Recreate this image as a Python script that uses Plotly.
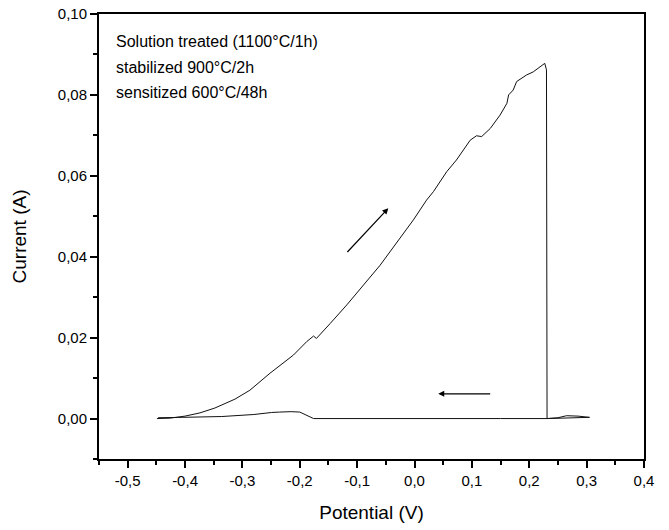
import plotly.graph_objects as go

# Forward (anodic) scan
fwd_x = [-0.449, -0.426, -0.400, -0.374, -0.348, -0.313, -0.287, -0.252, -0.211, -0.188,
         -0.176, -0.171, -0.147, -0.118, -0.089, -0.060, -0.002, 0.021, 0.033, 0.056,
         0.073, 0.097, 0.108, 0.117, 0.132, 0.149, 0.161, 0.164, 0.172, 0.178,
         0.195, 0.207, 0.227, 0.230, 0.231]
fwd_y = [0.0000, 0.0001, 0.0006, 0.0014, 0.0026, 0.0048, 0.0070, 0.0112, 0.0157, 0.0190,
         0.0204, 0.0198, 0.0235, 0.0281, 0.0330, 0.0379, 0.0491, 0.0540, 0.0561, 0.0610,
         0.0639, 0.0688, 0.0699, 0.0697, 0.0717, 0.0750, 0.0779, 0.0800, 0.0812, 0.0833,
         0.0849, 0.0857, 0.0878, 0.0862, 0.0000]

# Tail beyond the drop and reverse (cathodic) scan
rev_x = [0.231, 0.250, 0.265, 0.285, 0.305, 0.280, 0.250, 0.231, 0.150, 0.050, -0.050,
         -0.150, -0.176, -0.200, -0.215, -0.235, -0.249, -0.280, -0.336, -0.404, -0.447]
rev_y = [0.0000, 0.0002, 0.0007, 0.0006, 0.0003, 0.0002, 0.0000, 0.0000, 0.0000, 0.0000, 0.0000,
         0.0000, 0.0000, 0.0016, 0.0017, 0.0016, 0.0015, 0.0010, 0.0005, 0.0003, 0.0002]

x_tickvals = [-0.5, -0.4, -0.3, -0.2, -0.1, 0.0, 0.1, 0.2, 0.3, 0.4]
x_ticktext = ["-0,5", "-0,4", "-0,3", "-0,2", "-0,1", "0,0", "0,1", "0,2", "0,3", "0,4"]
y_tickvals = [0.00, 0.02, 0.04, 0.06, 0.08, 0.10]
y_ticktext = ["0,00", "0,02", "0,04", "0,06", "0,08", "0,10"]

labels = ["Solution treated (1100°C/1h)", "stabilized 900°C/2h", "sensitized 600°C/48h"]
label_y = [0.0931, 0.0869, 0.0805]

fig = go.Figure()
fig.add_trace(go.Scatter(x=fwd_x + rev_x, y=fwd_y + rev_y, mode="lines",
                         line=dict(color="#111111", width=1), showlegend=False,
                         hoverinfo="skip"))

FONT = "Liberation Sans, Arial, sans-serif"

for t, yy in zip(labels, label_y):
    fig.add_annotation(x=-0.524, y=yy, xref="x", yref="y", text=t, showarrow=False,
                       xanchor="left", yanchor="middle",
                       font=dict(family=FONT, size=16, color="black"))

# direction arrows
fig.add_annotation(x=-0.0457, y=0.0520, ax=-0.1195, ay=0.0408, xref="x", yref="y",
                   axref="x", ayref="y", text="", showarrow=True, arrowhead=2,
                   arrowsize=1, arrowwidth=1.2, arrowcolor="black")
fig.add_annotation(x=0.0414, y=0.0061, ax=0.1345, ay=0.0061, xref="x", yref="y",
                   axref="x", ayref="y", text="", showarrow=True, arrowhead=2,
                   arrowsize=1, arrowwidth=1.2, arrowcolor="black")

axis_common = dict(showgrid=False, zeroline=False, showline=True, linecolor="black",
                   linewidth=2, mirror=True, ticks="outside", ticklen=7, tickwidth=2,
                   tickcolor="black", automargin=False, ticklabeloverflow="allow",
                   tickfont=dict(family=FONT, size=15, color="black"))

fig.update_xaxes(range=[-0.55, 0.4], tickvals=x_tickvals, ticktext=x_ticktext,
                 minor=dict(dtick=0.05, tick0=0, ticks="outside", ticklen=4,
                            tickwidth=2, tickcolor="black"),
                 title=dict(text="Potential (V)", font=dict(family=FONT, size=19, color="black"),
                            standoff=18),
                 **axis_common)
fig.update_yaxes(range=[-0.01, 0.10], tickvals=y_tickvals, ticktext=y_ticktext,
                 minor=dict(dtick=0.01, tick0=0, ticks="outside", ticklen=4,
                            tickwidth=2, tickcolor="black"),
                 title=dict(text="Current (A)", font=dict(family=FONT, size=19, color="black"),
                            standoff=26),
                 **axis_common)

fig.update_layout(width=669, height=530, margin=dict(l=99, r=25, t=14, b=71),
                  paper_bgcolor="white", plot_bgcolor="white")

# remove the default 8px page margin so the figure fills the window exactly
fig.write_html("out.html", config={"displayModeBar": False},
               post_script="document.body.style.margin='0';")
